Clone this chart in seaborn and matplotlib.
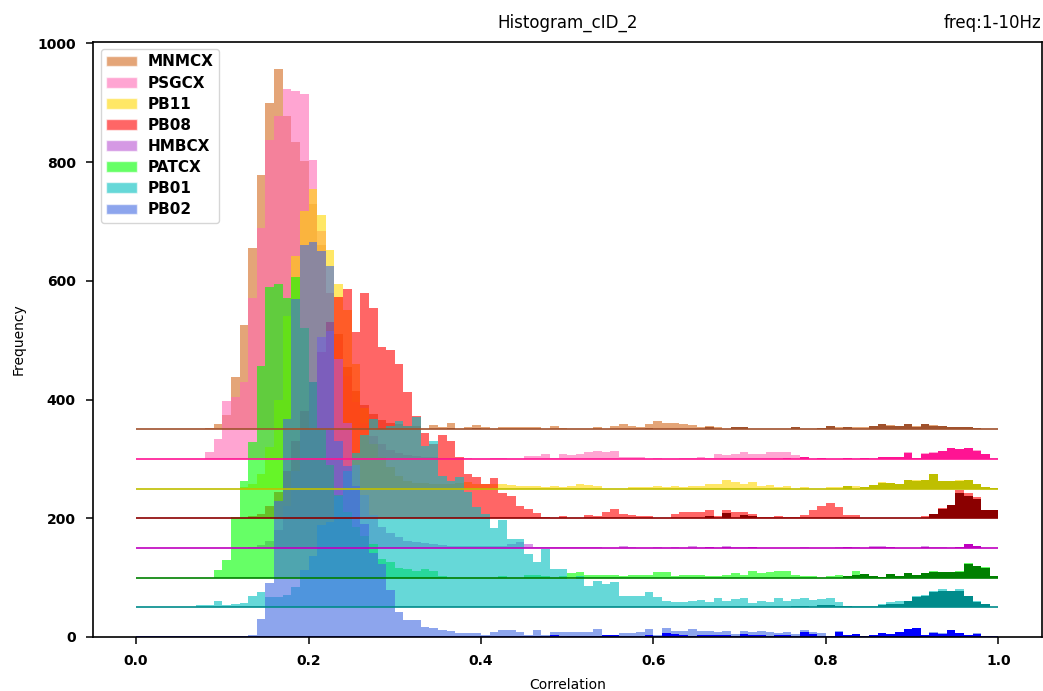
import numpy as np
import matplotlib
matplotlib.use("Agg")
import matplotlib.pyplot as plt
import matplotlib.transforms as mtransforms
from matplotlib.patches import Patch
import seaborn as sns

sns.set_style("ticks", rc={"axes.edgecolor": "black", "xtick.color": "black",
                           "ytick.color": "black", "text.color": "black",
                           "axes.labelcolor": "black"})
plt.rcParams["font.family"] = ["DejaVu Sans"]

# ---------------- data (counts per 0.01 bin, 0.00 .. 1.00) ----------------
names = ["MNMCX", "PSGCX", "PB11", "PB08", "HMBCX", "PATCX", "PB01", "PB02"]
offsets = [350, 300, 250, 200, 150, 100, 50, 0]

MNMCX_light = [0, 0, 0, 0, 0, 0, 0, 0, 2, 9, 24, 88, 176, 306, 428, 550, 607, 528, 483, 452,
               380, 310, 230, 160, 105, 65, 40, 25, 15, 10, 8, 6, 5, 1, 7, 4, 10, 1, 3, 7,
               3, 1, 3, 3, 3, 3, 3, 1, 5, 2, 0, 0, 1, 3, 0, 5, 8, 5, 3, 8,
               13, 10, 10, 8, 7, 4, 5, 3, 1, 4, 3, 0, 1, 0, 1, 1, 3, 0, 1, 2,
               5, 3, 3, 3, 3, 5, 8, 7, 5, 8, 5, 8, 7, 5, 3, 3, 3, 2, 0, 0]
MNMCX_dark = [0] * 36 + [2, 0, 0, 2] + [0] * 19 + [2] + [0] * 6 + [3, 0, 0, 3, 3] + [0] * 5 + \
             [3, 0, 0, 2, 5, 1, 3, 0, 0, 5, 8, 6, 5, 8, 4, 8, 6, 5, 3, 3, 3, 2, 0, 0]

PSGCX_light = [0, 0, 0, 0, 0, 0, 0, 0, 12, 34, 98, 105, 130, 271, 389, 537, 578, 623, 620, 615,
               504, 384, 280, 200, 140, 95, 60, 38, 25, 15, 10, 6, 5, 4, 3, 2, 2, 1, 1, 0,
               0, 2, 2, 0, 0, 5, 5, 9, 2, 9, 7, 9, 12, 14, 11, 14, 3, 4, 3, 0,
               2, 0, 0, 2, 2, 3, 2, 9, 7, 9, 12, 9, 9, 12, 12, 12, 7, 3, 0, 2,
               0, 0, 2, 0, 2, 2, 3, 3, 3, 11, 2, 10, 11, 14, 19, 17, 19, 15, 9, 1]
PSGCX_dark = [0] * 75 + [2, 0, 3, 0, 2, 0, 0, 2, 0, 2, 0, 3, 3, 3, 10, 2, 8, 10, 14, 19, 17, 19,
                         13, 9, 0.5]

PB11_light = [0] * 12 + [2, 8, 25, 70, 150, 291, 392, 468,
              504, 461, 402, 344, 300, 210, 135, 75, 54, 37, 22, 12, 10, 9, 8, 8, 8, 9, 11, 7,
              7, 7, 8, 6, 4, 5, 4, 2, 4, 3, 4, 7, 6, 4, 0, 0, 0, 2, 2, 2,
              4, 2, 5, 2, 4, 4, 8, 8, 14, 11, 7, 11, 4, 6, 3, 4, 0, 2, 0, 0,
              2, 2, 4, 4, 2, 6, 11, 10, 7, 14, 14, 14, 24, 12, 12, 14, 14, 8, 3, 1]
PB11_dark = [0] * 82 + [4, 0, 2, 6, 10, 10, 7, 14, 12, 14, 24, 12, 12, 12, 14, 8, 3, 1]

PB08_light = [0] * 13 + [3, 8, 20, 45, 80, 130, 180,
              230, 280, 330, 373, 386, 314, 380, 354, 289, 284, 260, 213, 172, 143, 125, 140,
              130, 103, 75, 70, 58, 68, 42, 38, 21, 16, 9, 2, 0, 4, 0, 0, 6, 4, 10, 16, 8, 6, 4,
              3, 0, 0, 7, 10, 10, 10, 14, 4, 14, 10, 11, 7, 2, 2, 4, 2, 2, 6, 14, 21,
              26, 19, 6, 6, 0, 0, 0, 0, 0, 0, 0, 3, 7, 17, 22, 48, 42, 35, 14, 14]
PB08_dark = [0] * 66 + [4, 0, 9, 0, 6, 4] + [0] * 20 + [7, 15, 22, 43, 38, 33, 14, 14]

HMBCX_light = [0] * 13 + [2, 5, 12, 30, 70, 130, 200,
               280, 355, 365, 318, 210, 140, 90, 55, 35, 25, 18, 12, 10, 8, 6, 5, 4, 4, 4, 4,
               4, 4, 4, 6, 10, 6, 2, 2, 1, 1, 1, 1, 1, 2, 0, 0, 4, 2, 0, 0,
               2, 0, 2, 0, 4, 0, 2, 0, 4, 2, 2, 2, 0, 0, 0, 0, 0, 2, 0, 0,
               0, 2, 2, 2, 0, 4, 4, 2, 0, 0, 0, 4, 2, 2, 0, 2, 7, 4, 0, 0]
HMBCX_dark = [0] * 66 + [2, 0, 2, 0, 0, 2] + [0] * 10 + [2, 0, 0, 2, 2, 2, 0, 0, 0, 2, 0, 0,
                                                         0, 2, 7, 4, 0, 0]

PATCX_light = [0] * 9 + [13, 30, 102, 163, 229, 357, 490, 495, 471, 506, 420,
               330, 250, 190, 140, 110, 85, 70, 56, 31, 27, 16, 15, 11, 14, 12, 2, 0, 0, 0, 0,
               0, 0, 2, 0, 0, 4, 4, 2, 0, 2, 7, 9, 4, 4, 4, 4, 2, 4, 4, 4,
               10, 9, 2, 4, 4, 4, 2, 2, 4, 7, 4, 12, 7, 9, 12, 11, 4, 2, 2, 0,
               2, 4, 2, 11, 6, 2, 1, 6, 2, 7, 4, 8, 11, 9, 9, 11, 24, 20, 18, 2]
PATCX_dark = [0] * 82 + [2, 4, 6, 2, 1, 6, 2, 7, 4, 7, 9, 9, 9, 10, 23, 19, 17, 2]

PB01_light = [0] * 7 + [4, 4, 11, 4, 6, 7, 19, 26, 17, 17, 21, 35, 63,
              87, 139, 144, 188, 230, 260, 290, 317, 300, 305, 313, 305, 320, 272, 280, 221,
              213, 219, 195, 169, 157, 134, 147, 115, 115, 90, 76, 98, 65, 65, 48, 53, 36, 44,
              39, 43, 19, 19, 19, 26, 17, 11, 9, 9, 11, 12, 9, 16, 10, 14, 16, 7, 11, 9,
              16, 11, 14, 16, 12, 14, 16, 9, 2, 2, 2, 2, 6, 9, 11, 11, 19, 21, 28, 31, 28,
              31, 19, 11, 6, 1]
PB01_dark = [0] * 76 + [2, 2, 0, 4, 4, 2, 2, 1, 1, 1, 4, 6, 6, 11, 17, 19, 25, 28, 27, 27, 19,
                        9, 6, 1]

PB02_light = [0] * 13 + [4, 31, 91, 229, 367, 569, 660,
              665, 650, 625, 330, 288, 254, 190, 141, 123, 79, 42, 29, 29, 17, 15, 11, 10, 7,
              6, 6, 4, 8, 11, 12, 8, 4, 12, 4, 8, 9, 9, 9, 9, 13, 4, 4, 6, 7,
              8, 13, 4, 16, 10, 10, 13, 10, 10, 9, 10, 5, 10, 8, 10, 8, 7, 8, 5, 12,
              8, 7, 2, 10, 3, 5, 2, 3, 7, 5, 8, 13, 15, 3, 8, 7, 12, 7, 4, 7, 0, 0]
PB02_dark = [0] * 48 + [3, 0, 2, 2, 2, 2, 3, 3, 0, 0, 0, 3, 2, 6, 5, 3, 2, 3, 3, 3, 3, 2,
                        5, 3, 3, 2, 3, 3, 0, 9, 5, 2, 0, 9, 3, 5, 2, 3, 7, 5, 8, 13, 15, 3,
                        7, 5, 11, 7, 4, 5, 0, 0]

light_colors = ["chocolate", "hotpink", "gold", "red", "mediumorchid", "lime", "c", "royalblue"]
dark_colors = ["sienna", "deeppink", "y", "darkred", "m", "green", "darkcyan", "blue"]

lights = [MNMCX_light, PSGCX_light, PB11_light, PB08_light, HMBCX_light, PATCX_light,
          PB01_light, PB02_light]
darks = [MNMCX_dark, PSGCX_dark, PB11_dark, PB08_dark, HMBCX_dark, PATCX_dark,
         PB01_dark, PB02_dark]

n_bins = 100
centers = (np.arange(n_bins) + 0.5) / n_bins

# ---------------- figure ----------------
W, H = 1043, 691
fig = plt.figure(figsize=(W / 100, H / 100), dpi=100)
ax = fig.add_axes([93 / W, 1 - 637 / H, 948.5 / W, (637 - 41.5) / H])

for name, off, lc, dc, lv, dv in zip(names, offsets, light_colors, dark_colors, lights, darks):
    lv = np.asarray(lv, dtype=float)
    dv = np.asarray(dv, dtype=float)
    assert len(lv) == n_bins and len(dv) == n_bins, (name, len(lv), len(dv))
    shift = mtransforms.Affine2D().translate(0, off) + ax.transData
    sns.histplot(x=centers, weights=lv, bins=n_bins, binrange=(0, 1), color=lc, alpha=0.6,
                 linewidth=0, edgecolor="none", ax=ax, transform=shift)
    sns.histplot(x=centers, weights=dv, bins=n_bins, binrange=(0, 1), color=dc, alpha=1.0,
                 linewidth=0, edgecolor="none", ax=ax, transform=shift)
    ax.hlines(off, 0, 1, color=dc, lw=1.2)

ax.set_xlim(-0.05, 1.05)
ax.set_ylim(0, 1003)
ax.set_xticks([0, 0.2, 0.4, 0.6, 0.8, 1.0])
ax.set_xticklabels(["0.0", "0.2", "0.4", "0.6", "0.8", "1.0"])
ax.set_yticks([0, 200, 400, 600, 800, 1000])
ax.set_yticklabels(["0", "200", "400", "600", "800", "1000"])
for lbl in ax.get_xticklabels() + ax.get_yticklabels():
    lbl.set_fontweight("bold")
    lbl.set_fontsize(10)
ax.tick_params(length=5, width=1.1, pad=7.5)
for s in ax.spines.values():
    s.set_linewidth(1.2)
    s.set_visible(True)

ax.set_xlabel("Correlation", fontsize=10, labelpad=7)
ax.set_ylabel("Frequency", fontsize=10, labelpad=8)
ax.set_title("Histogram_cID_2", fontsize=12, pad=10)
ax.set_title("freq:1-10Hz", loc="right", fontsize=12, pad=10)

handles = [Patch(facecolor=c, alpha=0.6, label=n) for n, c in zip(names, light_colors)]
ax.legend(handles=handles, loc="upper left", prop={"weight": "bold", "size": 11},
          labelspacing=0.4, handletextpad=0.75, borderpad=0.35)

fig.savefig("out.png", dpi=100)
